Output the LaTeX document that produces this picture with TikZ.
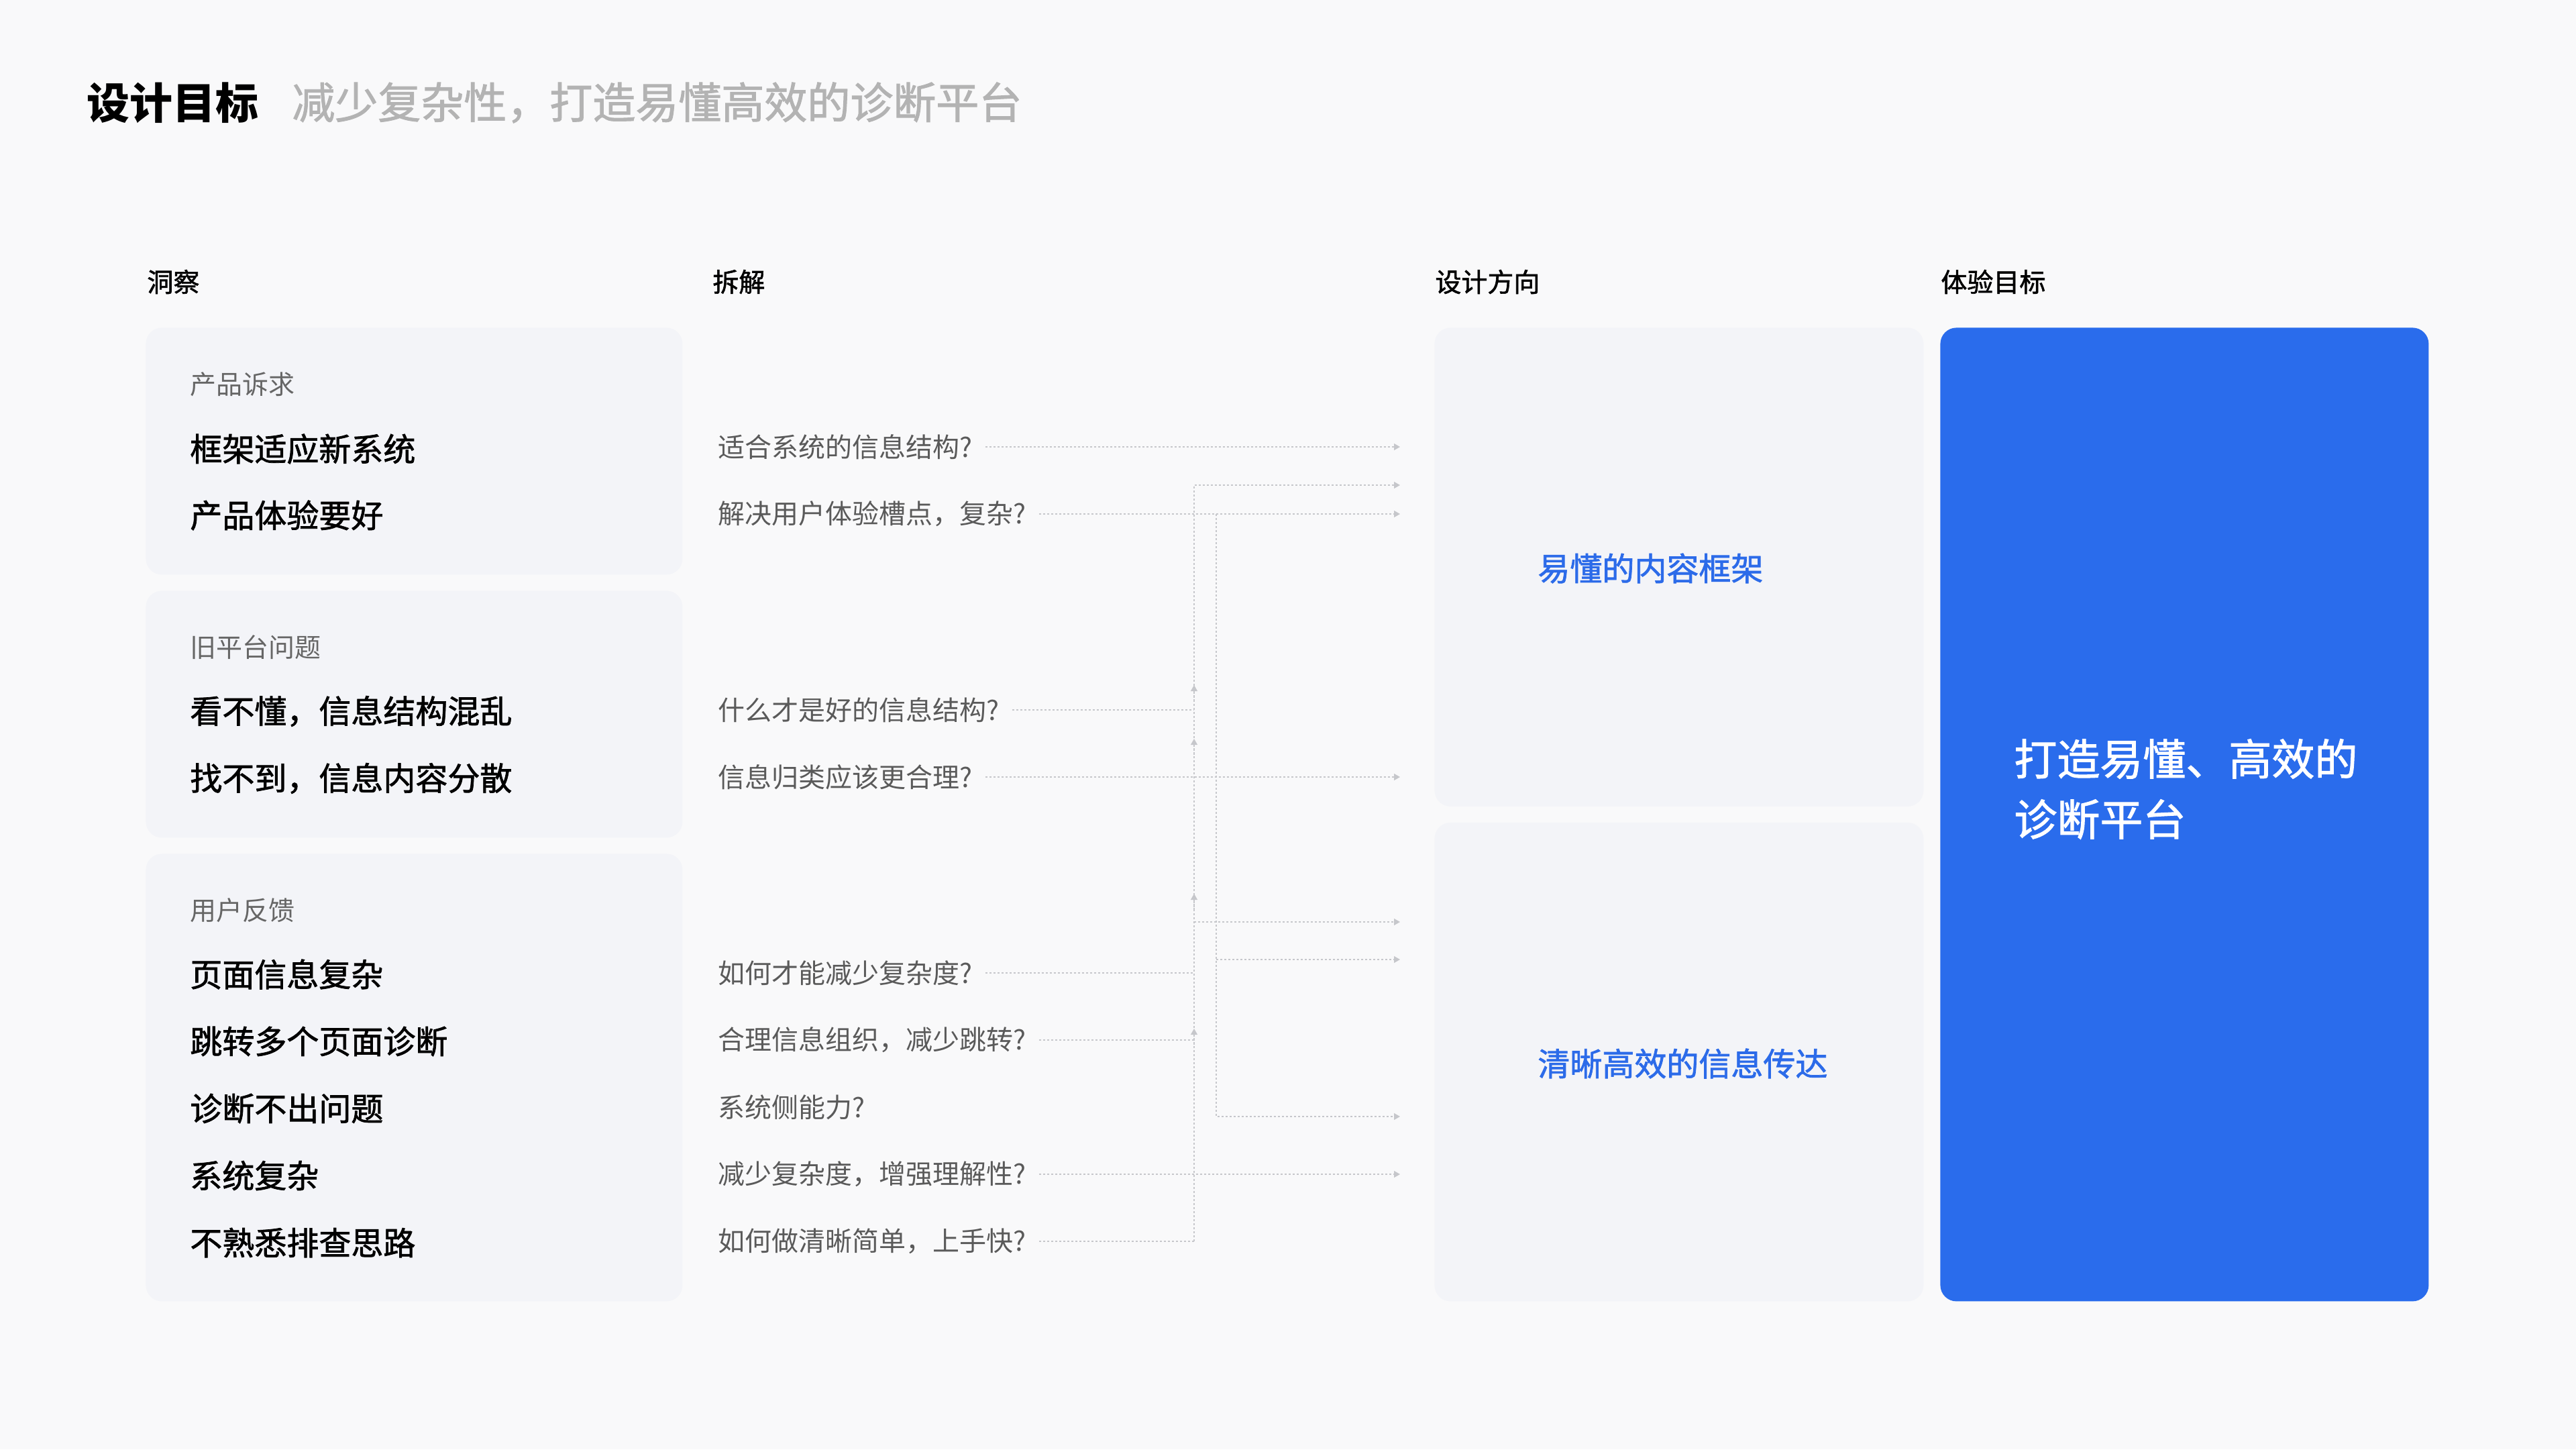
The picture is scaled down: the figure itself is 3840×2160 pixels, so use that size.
\documentclass[tikz,border=0pt]{standalone}
\usepackage{fontspec}
\setmainfont{Noto Sans CJK SC}
\newfontfamily\medfont[FakeBold=1.5]{Noto Sans CJK SC}
\usetikzlibrary{arrows.meta}
\definecolor{bg}{HTML}{F9F9FA}
\definecolor{boxbg}{HTML}{F3F4F8}
\definecolor{bluebg}{HTML}{2A6CEC}
\definecolor{bluetx}{HTML}{2C6BE9}
\definecolor{greytx}{HTML}{5A5A5A}
\definecolor{subtx}{HTML}{666666}
\definecolor{titlegrey}{HTML}{B3B3B3}
\definecolor{linec}{HTML}{C6C7CB}
\begin{document}
\begin{tikzpicture}[x=0.5pt,y=-0.5pt,
  lbl/.style={anchor=west, inner sep=0pt},
  titlea/.style={lbl, font=\fontsize{32pt}{38pt}\selectfont\bfseries, text=black},
  titleb/.style={lbl, font=\fontsize{32pt}{38pt}\selectfont\medfont, text=titlegrey},
  colhead/.style={lbl, font=\fontsize{19.5pt}{24pt}\selectfont\medfont, text=black},
  grouplbl/.style={lbl, font=\fontsize{19.5pt}{24pt}\selectfont, text=subtx},
  rowtxt/.style={lbl, font=\fontsize{24pt}{29pt}\selectfont\medfont, text=black},
  qtxt/.style={lbl, font=\fontsize{20pt}{24pt}\selectfont, text=greytx},
  dirtxt/.style={lbl, font=\fontsize{24pt}{29pt}\selectfont\medfont, text=bluetx},
  goaltxt/.style={lbl, font=\fontsize{32pt}{38pt}\selectfont\medfont, text=white},
  panel/.style={fill=boxbg, draw=none, rounded corners=12pt, anchor=north west, inner sep=0pt},
  goalpanel/.style={fill=bluebg, draw=none, rounded corners=12pt, anchor=north west, inner sep=0pt},
  conn/.style={draw=linec, line width=0.65pt, dash pattern=on 1.5pt off 1.5pt},
  arr/.style={conn, -{Triangle[length=4.5pt,width=5pt]}},
]
\fill[bg] (0,0) rectangle (3840,2160);
\useasboundingbox (0,0) rectangle (3840,2160);

% title
\node[titlea] (ttl) at (129,153) {设计目标};
\node[titleb] (sub) at (435,153) {减少复杂性，打造易懂高效的诊断平台};

% column headings
\node[colhead] (h1) at (219,420) {洞察};
\node[colhead] (h2) at (1062,420) {拆解};
\node[colhead] (h3) at (2139,420) {设计方向};
\node[colhead] (h4) at (2893,420) {体验目标};

% left panels
\node[panel, minimum width=400pt, minimum height=184pt] (p1) at (217,488) {};
\node[panel, minimum width=400pt, minimum height=184pt] (p2) at (217,880) {};
\node[panel, minimum width=400pt, minimum height=333.5pt] (p3) at (217,1272) {};

\node[grouplbl] (g1) at (283,573) {产品诉求};
\node[rowtxt] (r11) at (283,669) {框架适应新系统};
\node[rowtxt] (r12) at (283,768) {产品体验要好};

\node[grouplbl] (g2) at (283,965) {旧平台问题};
\node[rowtxt] (r21) at (283,1060) {看不懂，信息结构混乱};
\node[rowtxt] (r22) at (283,1160) {找不到，信息内容分散};

\node[grouplbl] (g3) at (283,1357) {用户反馈};
\node[rowtxt] (r31) at (283,1452) {页面信息复杂};
\node[rowtxt] (r32) at (283,1552) {跳转多个页面诊断};
\node[rowtxt] (r33) at (283,1652) {诊断不出问题};
\node[rowtxt] (r34) at (283,1752) {系统复杂};
\node[rowtxt] (r35) at (283,1852) {不熟悉排查思路};

% questions
\node[qtxt] (q1) at (1070,666) {适合系统的信息结构?};
\node[qtxt] (q2) at (1070,766) {解决用户体验槽点，复杂?};
\node[qtxt] (q3) at (1070,1058) {什么才是好的信息结构?};
\node[qtxt] (q4) at (1070,1158) {信息归类应该更合理?};
\node[qtxt] (q5) at (1070,1450) {如何才能减少复杂度?};
\node[qtxt] (q6) at (1070,1550) {合理信息组织，减少跳转?};
\node[qtxt] (q7) at (1070,1650) {系统侧能力?};
\node[qtxt] (q8) at (1070,1750) {减少复杂度，增强理解性?};
\node[qtxt] (q9) at (1070,1850) {如何做清晰简单，上手快?};

% right panels
\node[panel, minimum width=364.5pt, minimum height=356.75pt] (d1) at (2138,488) {};
\node[panel, minimum width=364.5pt, minimum height=356.75pt] (d2) at (2138,1225.5) {};
\node[goalpanel, minimum width=364pt, minimum height=725.5pt] (gl) at (2892,488) {};

\node[dirtxt] (dt1) at (2292,847) {易懂的内容框架};
\node[dirtxt] (dt2) at (2292,1585) {清晰高效的信息传达};
\node[goaltxt] (gt1) at (3002,1131) {打造易懂、高效的};
\node[goaltxt] (gt2) at (3002,1221) {诊断平台};

% connector reference coordinates
\coordinate (tx) at (2087,0);
\coordinate (lx) at (1780,0);
\coordinate (rx) at (1813,0);
\coordinate (ltop) at (1780,723);
\coordinate (ttop) at (2087,723);
\coordinate (lb) at (1780,1374);
\coordinate (tb) at (2087,1374);
\coordinate (rb1) at (1813,1430);
\coordinate (tb1) at (2087,1430);
\coordinate (rb2) at (1813,1664);
\coordinate (tb2) at (2087,1664);

% straight connectors
\draw[arr] ([xshift=9.5pt]q1.east) -- (q1.east -| tx);
\draw[arr] ([xshift=9.5pt]q2.east) -- (q2.east -| tx);
\draw[arr] ([xshift=9.5pt]q4.east) -- (q4.east -| tx);
\draw[arr] ([xshift=9.5pt]q8.east) -- (q8.east -| tx);

% right trunk from q2
\draw[arr] (q2.east -| rx) -- (rb2) -- (tb2);
\draw[arr] (rb1) -- (tb1);

% left trunk
\draw[arr] (q9.east -| lx) -- (ltop) -- (ttop);
\draw[arr] (lb) -- (tb);
\draw[conn] ([xshift=9.5pt]q9.east) -- (q9.east -| lx);
\draw[conn] ([xshift=9.5pt]q3.east) -- (q3.east -| lx);
\draw[conn] ([xshift=9.5pt]q5.east) -- (q5.east -| lx);
\draw[conn] ([xshift=9.5pt]q6.east) -- (q6.east -| lx);

% upward marks on left trunk
\draw[arr] (1780,1045) -- (1780,1021);
\draw[arr] (1780,1125) -- (1780,1101);
\draw[arr] (1780,1356) -- (1780,1332);
\draw[arr] (1780,1557) -- (1780,1533);
\end{tikzpicture}
\end{document}
